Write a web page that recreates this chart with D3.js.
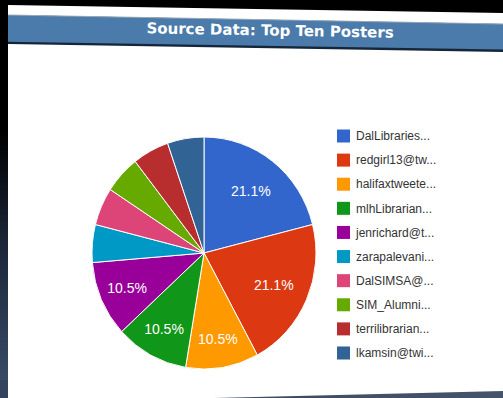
<!DOCTYPE html>
<html>
<head>
<meta charset="utf-8">
<script src="https://cdn.jsdelivr.net/npm/d3@7"></script>
<style>
  html, body { margin: 0; padding: 0; background: #000; }
  svg { display: block; }
</style>
</head>
<body>
<svg id="chart" width="503" height="398"></svg>
<script>
// Top ten posters by number of posts
const posters = ["DalLibraries...", "redgirl13@tw...", "halifaxtweete...", "mlhLibrarian...",
  "jenrichard@t...", "zarapalevani...", "DalSIMSA@...", "SIM_Alumni...",
  "terrilibrarian...", "lkamsin@twi..."];
const posts = [4, 4, 2, 2, 2, 1, 1, 1, 1, 1];
const sliceColors = ["#3366cc", "#dc3912", "#ff9900", "#109618", "#990099",
  "#0099c6", "#dd4477", "#66aa00", "#b82e2e", "#316395"];
const chartTitle = "Source Data: Top Ten Posters";

const svg = d3.select("#chart");
const W = 503, H = 398;

// backdrop: dark at the top, slate blue towards the bottom
const defs = svg.append("defs");
const bg = defs.append("linearGradient").attr("id", "bg")
  .attr("x1", 0).attr("y1", 0).attr("x2", 0).attr("y2", 1);
bg.append("stop").attr("offset", "0.33").attr("stop-color", "#000");
bg.append("stop").attr("offset", "0.6").attr("stop-color", "#1a2536");
bg.append("stop").attr("offset", "1").attr("stop-color", "#3c4f6c");
svg.append("rect").attr("width", W).attr("height", H).attr("fill", "url(#bg)");

const bottomBand = defs.append("linearGradient").attr("id", "bb")
  .attr("x1", 0).attr("y1", 0).attr("x2", 1).attr("y2", 0);
bottomBand.append("stop").attr("offset", "0").attr("stop-color", "#34445c");
bottomBand.append("stop").attr("offset", "1").attr("stop-color", "#46546a");
svg.append("rect").attr("y", 380).attr("width", W).attr("height", 18).attr("fill", "url(#bb)");

// white card, slightly skewed
const line = d3.line();
svg.append("path")
  .attr("d", line([[8, 5], [503, 13], [503, 391], [8, 403]]) + "Z")
  .attr("fill", "#fff");

// header band
svg.append("path")
  .attr("d", line([[8, 15], [503, 24], [503, 52], [8, 44]]) + "Z")
  .attr("fill", "#16263a");
svg.append("path")
  .attr("d", line([[8, 15], [503, 24], [503, 49.5], [8, 41.8]]) + "Z")
  .attr("fill", "#4a7bab");
svg.append("path")
  .attr("d", line([[8, 15], [503, 24]]))
  .attr("stroke", "#9aa9b8").attr("stroke-width", 1).attr("fill", "none");

const angle = Math.atan2(9, 495) * 180 / Math.PI;
svg.append("text")
  .attr("transform", `translate(270,35.5) rotate(${angle})`)
  .attr("text-anchor", "middle")
  .attr("font-family", "DejaVu Sans")
  .attr("font-weight", "bold")
  .attr("font-size", 15)
  .attr("fill", "#fff")
  .text(chartTitle);

// pie
const cx = 204, cy = 253, rx = 112, ry = 116;
const pie = d3.pie().sort(null).value(d => d)(posts);
const total = d3.sum(posts);
const arc = d3.arc().innerRadius(0).outerRadius(ry);
// narrower slices get their labels pushed further out
const labelRadius = d => (d.value / total > 0.15 ? 0.68 : 0.75) * ry;

const g = svg.append("g").attr("transform", `translate(${cx},${cy}) scale(${rx / ry},1)`);
g.selectAll("path").data(pie).join("path")
  .attr("d", arc)
  .attr("fill", (d, i) => sliceColors[i])
  .attr("stroke", "#fff")
  .attr("stroke-width", 1);

const labelPos = d => {
  const r = labelRadius(d);
  return d3.arc().innerRadius(r).outerRadius(r).centroid(d);
};
svg.append("g").selectAll("text")
  .data(pie.filter(d => d.value / total >= 0.1))
  .join("text")
  .attr("x", d => cx + labelPos(d)[0] * rx / ry)
  .attr("y", d => cy + labelPos(d)[1])
  .attr("dy", "0.35em")
  .attr("text-anchor", "middle")
  .attr("font-family", "Liberation Sans, Arial")
  .attr("font-size", 14)
  .attr("fill", "#fff")
  .text(d => (d.value / total * 100).toFixed(1) + "%");

// legend
const ly = d3.scalePoint().domain(d3.range(posters.length)).range([136, 353]);
const leg = svg.append("g").selectAll("g").data(posters).join("g")
  .attr("transform", (d, i) => `translate(337,${ly(i)})`);
leg.append("rect")
  .attr("x", 0).attr("y", -6.5).attr("width", 13).attr("height", 13)
  .attr("fill", (d, i) => sliceColors[i]);
leg.append("text")
  .attr("x", 19).attr("dy", "0.35em")
  .attr("font-family", "Liberation Sans, Arial")
  .attr("font-size", 12)
  .attr("fill", "#333")
  .text(d => d);
</script>
</body>
</html>
